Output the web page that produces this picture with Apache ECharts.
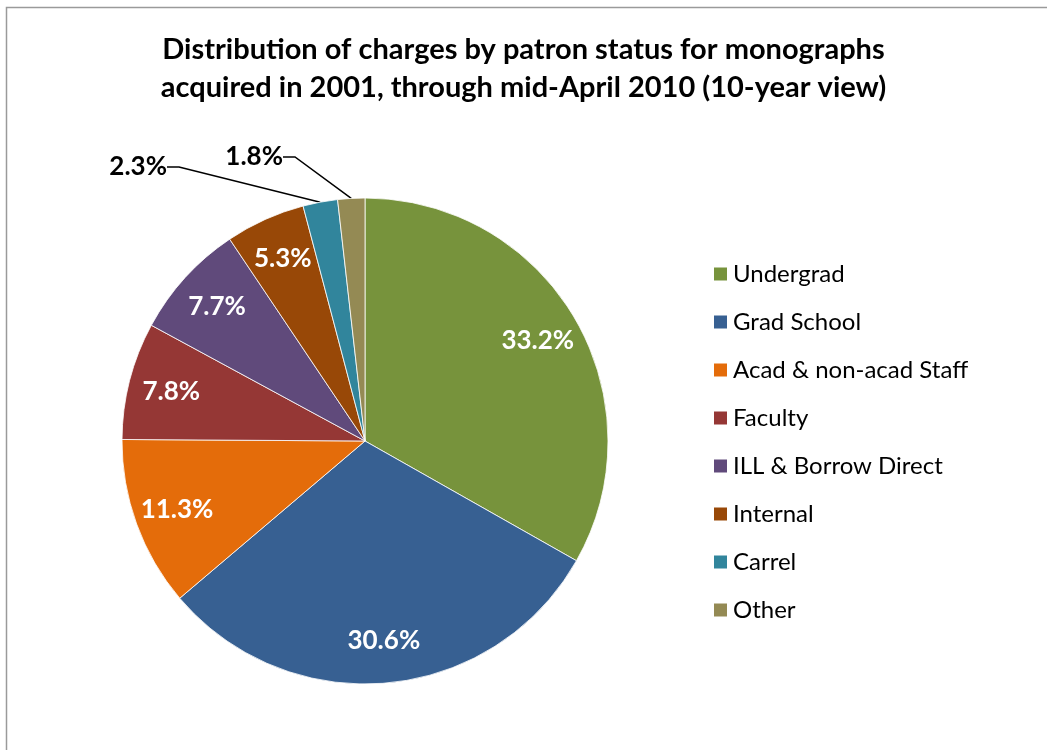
<!DOCTYPE html>
<html>
<head>
<meta charset="utf-8">
<script src="https://cdn.jsdelivr.net/npm/echarts@6/dist/echarts.min.js"></script>
<style>
  html, body { margin: 0; padding: 0; background: #fff; }
  #chart { width: 1047px; height: 750px; }
</style>
</head>
<body>
<div id="chart"></div>
<script>
// data
const categories = ['Undergrad', 'Grad School', 'Acad & non-acad Staff', 'Faculty',
  'ILL & Borrow Direct', 'Internal', 'Carrel', 'Other']
const shares = [33.2, 30.6, 11.3, 7.8, 7.7, 5.3, 2.3, 1.8]
const colors = ['#77933C', '#376092', '#E46C0A', '#953735', '#604A7B', '#984807', '#31859C', '#948A54']
// small slices get their label outside with a leader line
const outsideLabels = ['Carrel', 'Other']

const font = 'Lato, "Open Sans", sans-serif'
const center = [365, 441]
const radius = 243

// where the two outside labels sit (right edge / middle of the text)
const outsideLabelPos = {
  Carrel: [167, 167],
  Other: [283, 157]
}

const chart = echarts.init(document.getElementById('chart'))

const mainData = categories.map((name, i) => {
  const outside = outsideLabels.includes(name)
  return {
    name,
    value: shares[i],
    itemStyle: { color: colors[i] },
    label: { show: outside },
    labelLine: { show: outside }
  }
})

// transparent ring only used to place the inner labels at ~0.8 radius
const labelData = categories.map((name, i) => ({
  name,
  value: shares[i],
  label: { show: !outsideLabels.includes(name) }
}))

chart.setOption({
  animation: false,
  backgroundColor: '#fff',
  title: {
    text: 'Distribution of charges by patron status for monographs\nacquired in 2001, through mid-April 2010 (10-year view)',
    left: 'center',
    top: 31,
    padding: [0, 0, 0, 12],
    textStyle: {
      fontFamily: font,
      fontSize: 29,
      fontWeight: 'bold',
      color: '#000',
      lineHeight: 38
    }
  },
  graphic: [{
    type: 'rect',
    shape: { x: 6.5, y: 7.5, width: 1100, height: 800 },
    style: { fill: 'none', stroke: '#9a9a9a', lineWidth: 1.5 },
    silent: true
  }],
  legend: {
    orient: 'vertical',
    left: 712,
    top: 262,
    padding: 0,
    itemWidth: 15,
    itemHeight: 15,
    itemGap: 24,
    icon: 'rect',
    data: categories,
    selectedMode: false,
    textStyle: {
      fontFamily: font,
      fontSize: 24,
      lineHeight: 24,
      color: '#000'
    }
  },
  series: [
    {
      type: 'pie',
      center,
      radius,
      startAngle: 90,
      clockwise: true,
      avoidLabelOverlap: false,
      silent: true,
      data: mainData,
      itemStyle: { borderColor: '#fff', borderWidth: 0.8 },
      label: {
        position: 'outside',
        formatter: p => p.value.toFixed(1) + '%',
        fontFamily: font,
        fontSize: 26,
        fontWeight: 'bold',
        color: '#000'
      },
      labelLine: {
        length: 20,
        length2: 12,
        lineStyle: { color: '#000', width: 1.5 }
      },
      labelLayout: params => {
        const pos = outsideLabelPos[params.text ? categories[params.dataIndex] : '']
        if (!pos) return {}
        return { x: pos[0], y: pos[1], align: 'right', verticalAlign: 'middle' }
      }
    },
    {
      type: 'pie',
      center,
      radius: [151, radius],
      startAngle: 90,
      clockwise: true,
      avoidLabelOverlap: false,
      silent: true,
      data: labelData,
      itemStyle: { color: 'rgba(0,0,0,0)' },
      label: {
        position: 'inside',
        formatter: p => p.value.toFixed(1) + '%',
        fontFamily: font,
        fontSize: 26,
        fontWeight: 'bold',
        color: '#fff'
      },
      labelLine: { show: false }
    }
  ]
})
</script>
</body>
</html>
